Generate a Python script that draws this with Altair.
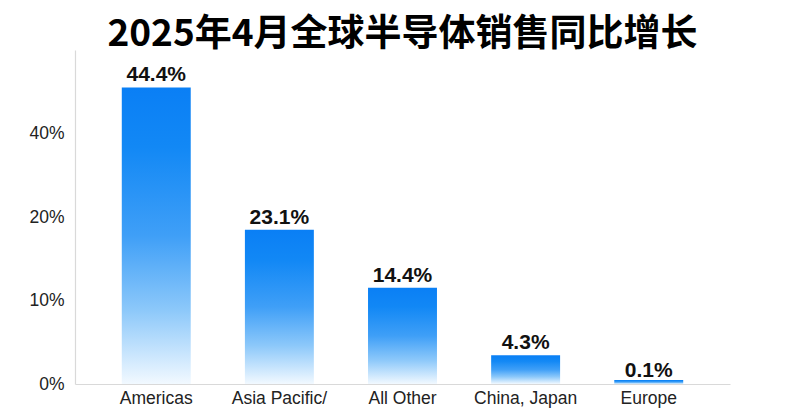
import altair as alt
import pandas as pd

regions = ["Americas", "Asia Pacific/", "All Other", "China, Japan", "Europe"]
growth = [44.4, 23.1, 14.4, 4.3, 0.1]
value_labels = ["44.4%", "23.1%", "14.4%", "4.3%", "0.1%"]
y_tick_values = [0, 12.5, 25, 37.5]
y_tick_labels = ["0%", "10%", "20%", "40%"]
title_text = "2025年4月全球半导体销售同比增长"

df = pd.DataFrame({"region": regions, "growth": growth, "label": value_labels})

label_expr = " : ".join(
    [f"datum.value == {v} ? '{l}'" for v, l in zip(y_tick_values, y_tick_labels)]
) + " : ''"

grad = alt.LinearGradient(
    gradient="linear",
    x1=0, x2=0, y1=1, y2=0,
    stops=[
        alt.GradientStop(color="#f2f9ff", offset=0),
        alt.GradientStop(color="#8cc8fa", offset=0.25),
        alt.GradientStop(color="#3f9ff7", offset=0.5),
        alt.GradientStop(color="#1288f5", offset=0.8),
        alt.GradientStop(color="#0a7ff5", offset=1),
    ],
)

x_enc = alt.X(
    "region:N",
    sort=regions,
    scale=alt.Scale(paddingInner=0.44, paddingOuter=0.38),
    axis=alt.Axis(
        title=None, labelAngle=0, ticks=False, labelFontSize=17.5,
        labelFont="Liberation Sans", labelColor="#222222", labelPadding=5,
        domainColor="#d9d9d9", domainWidth=1.2,
    ),
)
y_scale = alt.Scale(domain=[0, 50], nice=False)

bars = alt.Chart(df).transform_calculate(
    bar_h="max(datum.growth, 0.6)"
).mark_bar(color=grad).encode(
    x=x_enc,
    y=alt.Y(
        "bar_h:Q",
        scale=y_scale,
        axis=alt.Axis(
            title=None, values=y_tick_values, labelExpr=label_expr, grid=False,
            ticks=False, labelFontSize=17.5, labelFont="Liberation Sans",
            labelColor="#222222", labelPadding=11, domainColor="#d9d9d9",
            domainWidth=1.2,
        ),
    ),
)

texts = alt.Chart(df).mark_text(
    baseline="bottom", dy=-2, fontSize=21, fontWeight="bold",
    font="Liberation Sans", color="#111111",
).encode(
    x=alt.X("region:N", sort=regions),
    y=alt.Y("growth:Q", scale=y_scale),
    text="label:N",
)

chart = (
    alt.layer(bars, texts)
    .properties(
        width=655,
        height=334,
        background="white",
        title=alt.TitleParams(
            title_text, fontSize=37, fontWeight="bold",
            font="Noto Sans CJK SC", color="#000000", anchor="middle", offset=-4,
        ),
        autosize=alt.AutoSizeParams(type="none"),
        padding={"left": 67, "top": 42, "right": 50, "bottom": 25},
    )
    .configure_view(strokeWidth=0)
)

chart.save("out.html", embed_options={"renderer": "svg", "actions": False})
